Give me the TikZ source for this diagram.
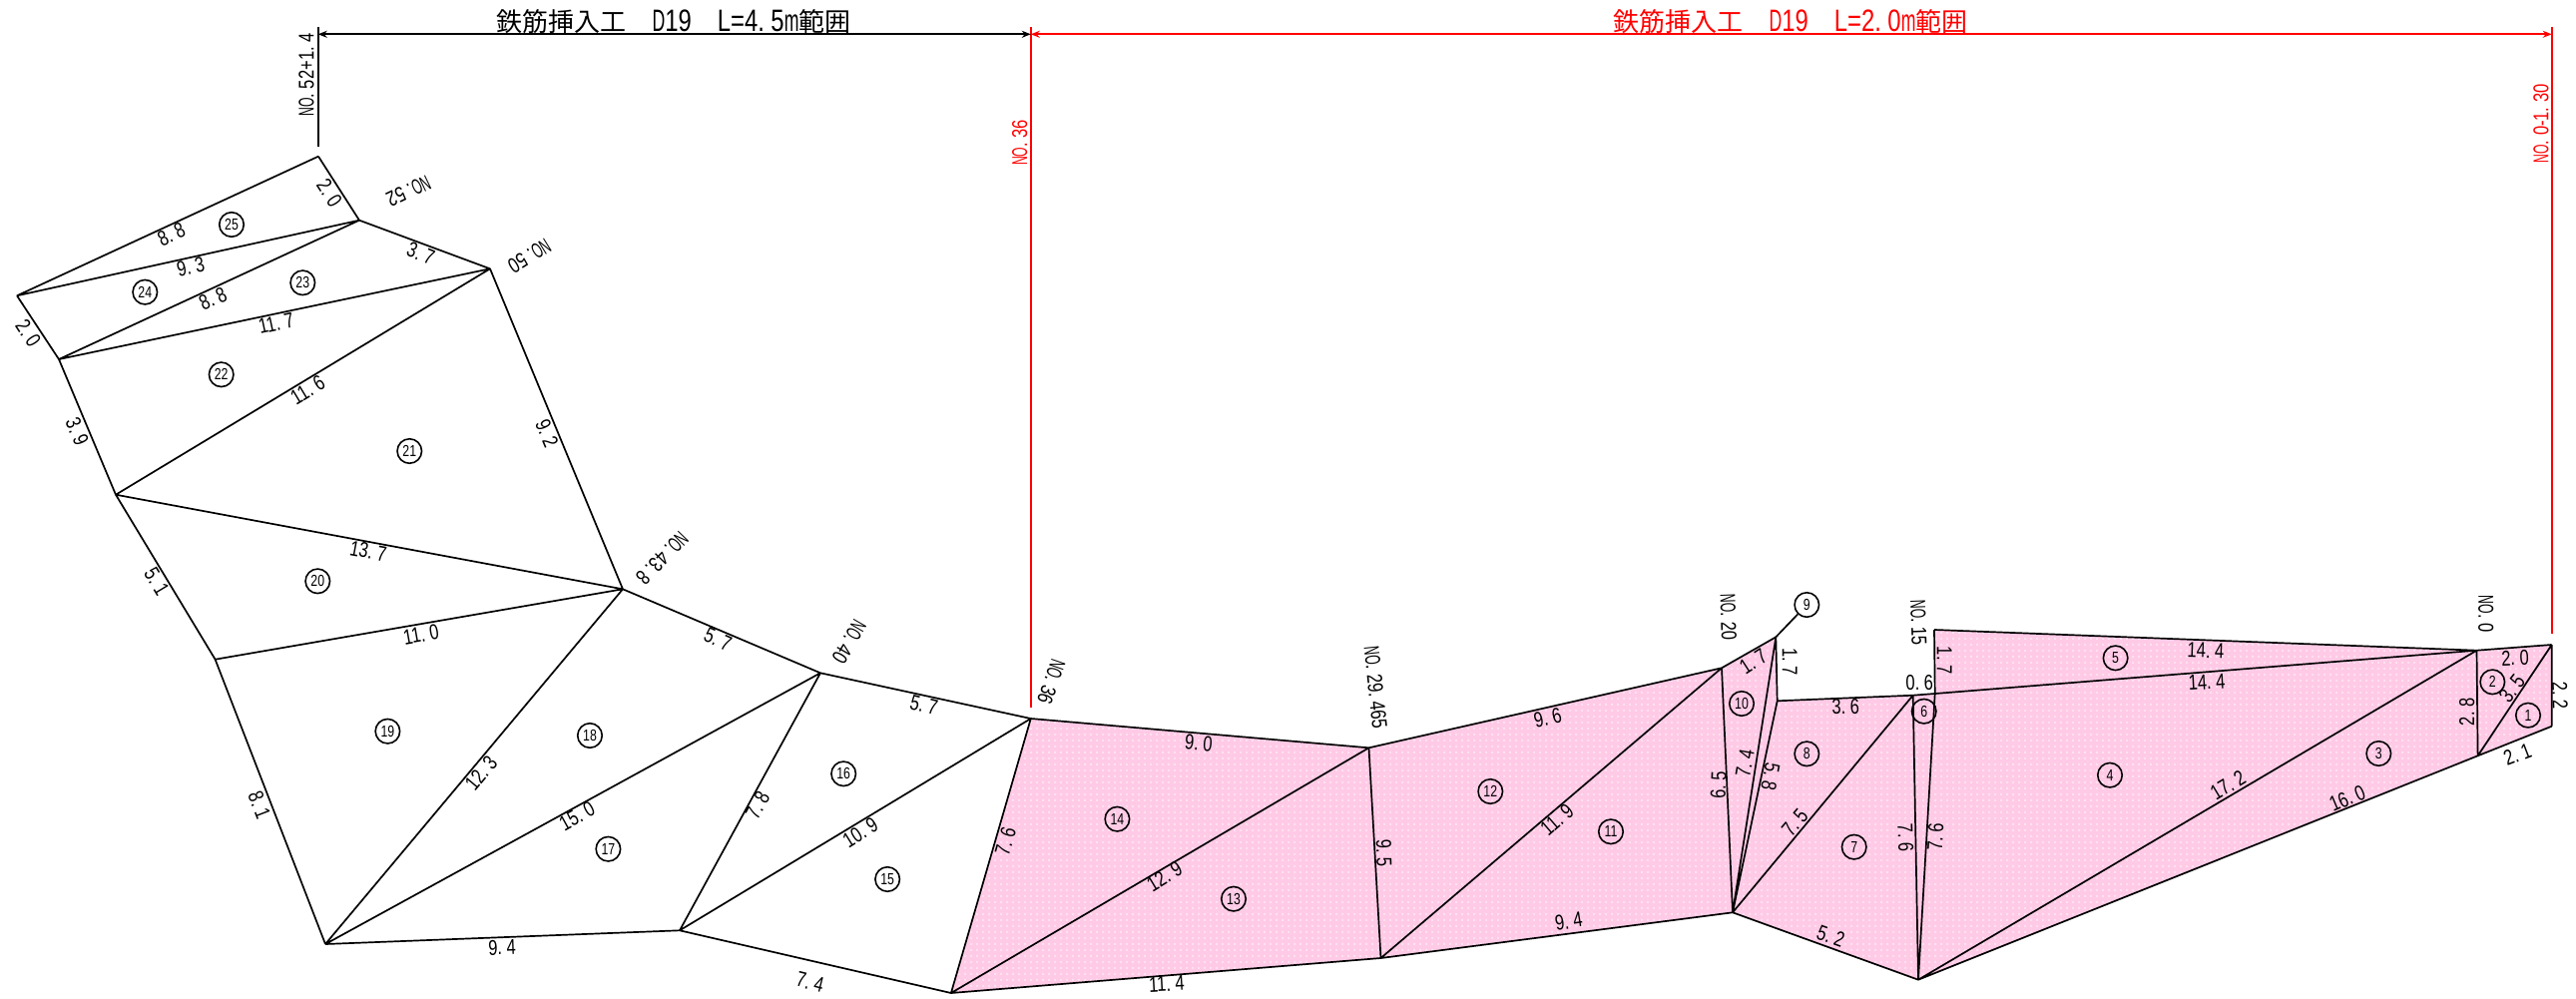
\documentclass[tikz,border=0pt]{standalone}
\usepackage{fontspec}
\usetikzlibrary{arrows.meta,patterns}
\setmainfont[FakeStretch=0.77]{Liberation Sans}
\newfontfamily\nofont[FakeStretch=0.57]{Liberation Sans}
\newfontfamily\cjkf{Noto Sans CJK JP}
% half-width spacing after the full stop, as in the reference's lettering
\XeTeXinterchartokenstate=1
\XeTeXcharclass`\.=7
\XeTeXinterchartoks 7 0 = {\kern0.21em}
\definecolor{pinkbase}{RGB}{255,202,230}
\definecolor{pinkdot}{RGB}{255,224,240}
\pgfdeclarepatternformonly{pinkdots}{\pgfpointorigin}{\pgfpoint{6pt}{6pt}}{\pgfpoint{6pt}{6pt}}{%
  \pgfpathrectangle{\pgfpointorigin}{\pgfpoint{2.5pt}{2.5pt}}\pgfusepath{fill}}
\newcommand{\NOx}{{\nofont NO}}
\newcommand{\titletext}[1]{{\fontsize{26}{26}\cjkf 鉄筋挿入工　}{\fontsize{31}{31}\selectfont{\nofont D}19}{\fontsize{26}{26}\cjkf 　}{\fontsize{31}{31}\selectfont L={#1}{\nofont m}}{\fontsize{26}{26}\cjkf 範囲}}
\tikzset{
  edge/.style={draw=black,line width=1.7pt,line join=round},
  redline/.style={draw=red,line width=2pt},
  blackline/.style={draw=black,line width=1.7pt},
  dimarrow/.style={{Stealth[length=9pt,width=7pt]}-{Stealth[length=9pt,width=7pt]}},
  lab/.style={inner sep=0pt,outer sep=0pt,font=\fontsize{21.5}{21.5}\selectfont},
  redlab/.style={lab,text=red},
  num/.style={circle,draw=black,line width=1.6pt,inner sep=0pt,minimum size=24.5pt,font=\fontsize{16}{16}\selectfont},
  ttl/.style={inner sep=0pt,outer sep=0pt},
}
\begin{document}
\begin{tikzpicture}[x=1pt,y=-1pt]
\useasboundingbox (0,0) rectangle (2581,1001);
% vertices
\coordinate (A) at (319,156.7);
\coordinate (B) at (360,220.7);
\coordinate (C) at (491,269.3);
\coordinate (D) at (17,296.3);
\coordinate (E) at (59,360);
\coordinate (F) at (116,495.7);
\coordinate (G) at (624,590.3);
\coordinate (H) at (215.6,660.7);
\coordinate (I) at (326,946);
\coordinate (J) at (681,932.3);
\coordinate (K) at (822,674.3);
\coordinate (L) at (1032.8,720);
\coordinate (M) at (1371.5,749.3);
\coordinate (N) at (1383.5,960);
\coordinate (O) at (952.9,995);
\coordinate (P) at (1725,669.3);
\coordinate (Q) at (1779.3,638.3);
\coordinate (R) at (1780.7,702.3);
\coordinate (S) at (1736,914.3);
\coordinate (T) at (1916.7,696.7);
\coordinate (U) at (1938.7,695);
\coordinate (V) at (1922,981.7);
\coordinate (W) at (1938,631);
\coordinate (X) at (2481.5,651.7);
\coordinate (Y) at (2556.7,646);
\coordinate (Z) at (2556.7,727.7);
\coordinate (AA) at (2482.6,757.3);
% dimension line ends
\coordinate (d1t) at (318.75,27);
\coordinate (d1b) at (318.75,146.7);
\coordinate (d1m) at (318.75,34.3);
\coordinate (d2t) at (1032.8,27);
\coordinate (d2b) at (1032.8,709);
\coordinate (d2m) at (1032.8,34.3);
\coordinate (d3t) at (2556.7,27);
\coordinate (d3b) at (2556.7,635);
\coordinate (d3m) at (2556.7,34.3);
% pink area
\path[fill=pinkbase] (L)--(M)--(P)--(Q)--(R)--(T)--(U)--(W)--(X)--(Y)--(Z)--(AA)--(V)--(S)--(N)--(O)--cycle;
\path[pattern=pinkdots,pattern color=pinkdot] (L)--(M)--(P)--(Q)--(R)--(T)--(U)--(W)--(X)--(Y)--(Z)--(AA)--(V)--(S)--(N)--(O)--cycle;
% edges
\draw[edge] (A)--(B) (A)--(D) (D)--(B) (B)--(C) (D)--(E) (E)--(B) (E)--(C) (C)--(F) (E)--(F)
  (C)--(G) (F)--(G) (F)--(H) (H)--(G) (H)--(I) (G)--(I) (G)--(K) (K)--(I) (I)--(J) (K)--(J)
  (K)--(L) (J)--(L) (J)--(O) (L)--(O) (L)--(M) (O)--(M) (M)--(N) (O)--(N) (M)--(P) (P)--(N)
  (N)--(S) (P)--(S) (Q)--(S) (R)--(S) (P)--(Q) (Q)--(R) (R)--(T) (S)--(T) (S)--(V) (T)--(V)
  (U)--(V) (T)--(U) (U)--(W) (W)--(X) (U)--(X) (X)--(V) (V)--(AA) (X)--(AA) (X)--(Y) (AA)--(Y)
  (Y)--(Z) (Z)--(AA);
% dimension lines
\draw[blackline] (d1t)--(d1b);
\draw[redline] (d2t)--(d2b);
\draw[redline] (d3t)--(d3b);
\draw[blackline,dimarrow] (d1m)--(d2m);
\draw[redline,dimarrow] (d2m)--(d3m);
% titles
\node[ttl] (t1) at (675,21.5) {\titletext{4.5}};
\node[ttl,text=red] (t2) at (1794,21.5) {\titletext{2.0}};
% station labels
\node[lab,rotate=90] (s1) at (307,75) {\NOx.52+1.4};
\node[redlab,rotate=90] (s2) at (1021.7,143) {\NOx.36};
\node[redlab,rotate=90] (s3) at (2546,124) {\NOx.0-1.30};
\node[lab,rotate=205.5] (s4) at (409.3,191.7) {\NOx.52};
\node[lab,rotate=212] (s5) at (530.4,256.7) {\NOx.50};
\node[lab,rotate=226] (s6) at (663.3,559.3) {\NOx.43.8};
\node[lab,rotate=240] (s7) at (850.7,643.3) {\NOx.40};
\node[lab,rotate=251] (s8) at (1053.3,683.3) {\NOx.36};
\node[lab,rotate=-84] (s9) at (1378.3,689) {\NOx.29.465};
\node[lab,rotate=-88] (s10) at (1731.7,618.3) {\NOx.20};
\node[lab,rotate=-88] (s11) at (1922.3,624) {\NOx.15};
\node[lab,rotate=-90] (s12) at (2490.7,615) {\NOx.0};
% length labels
\node[lab,rotate=-57] (a1) at (330,193.3) {2.0};
\node[lab,rotate=25] (a2) at (171.7,235) {8.8};
\node[lab,rotate=12.5] (a3) at (191,267.7) {9.3};
\node[lab,rotate=25] (a4) at (213.3,299.3) {8.8};
\node[lab,rotate=12] (a5) at (276.7,324) {11.7};
\node[lab,rotate=-22] (a6) at (421.7,254) {3.7};
\node[lab,rotate=-57] (a7) at (28.3,334) {2.0};
\node[lab,rotate=-67] (a8) at (77.3,432.7) {3.9};
\node[lab,rotate=31] (a9) at (308.3,390.7) {11.6};
\node[lab,rotate=-67] (a10) at (548,434) {9.2};
\node[lab,rotate=-10.5] (a11) at (369,552.3) {13.7};
\node[lab,rotate=10] (a12) at (421.9,635.7) {11.0};
\node[lab,rotate=-59] (a13) at (157,582.7) {5.1};
\node[lab,rotate=-69] (a14) at (260,806.7) {8.1};
\node[lab,rotate=50] (a15) at (482,774.3) {12.3};
\node[lab,rotate=29] (a16) at (578,817.7) {15.0};
\node[lab,rotate=2] (a17) at (503,949.3) {9.4};
\node[lab,rotate=-24] (a18) at (719.3,640.7) {5.7};
\node[lab,rotate=-14] (a19) at (925.7,706.7) {5.7};
\node[lab,rotate=61] (a20) at (759,807.3) {7.8};
\node[lab,rotate=32] (a21) at (862,834) {10.9};
\node[lab,rotate=-14] (a22) at (811.7,984) {7.4};
\node[lab,rotate=74] (a23) at (1007.4,843.3) {7.6};
\node[lab,rotate=-5] (a24) at (1201,744.3) {9.0};
\node[lab,rotate=31] (a25) at (1166.7,878.3) {12.9};
\node[lab,rotate=3] (a26) at (1169,986) {11.4};
\node[lab,rotate=-88] (a27) at (1386.7,855) {9.5};
\node[lab,rotate=13] (a28) at (1550.7,719) {9.6};
\node[lab,rotate=41] (a29) at (1560,821.7) {11.9};
\node[lab,rotate=9] (a30) at (1571.7,923.3) {9.4};
\node[lab,rotate=88] (a31) at (1721.7,786.7) {6.5};
\node[lab,rotate=33] (a32) at (1756.7,662.7) {1.7};
\node[lab,rotate=-90] (a33) at (1793.3,663.3) {1.7};
\node[lab,rotate=80] (a34) at (1748.3,765) {7.4};
\node[lab,rotate=-100] (a35) at (1774,778.3) {5.8};
\node[lab,rotate=1] (a36) at (1849.3,708.3) {3.6};
\node[lab,rotate=1] (a37) at (1923.3,684.3) {0.6};
\node[lab,rotate=50] (a38) at (1798.3,824) {7.5};
\node[lab,rotate=-88] (a39) at (1909.3,839.3) {7.6};
\node[lab,rotate=87] (a40) at (1939.3,838.3) {7.6};
\node[lab,rotate=-90] (a41) at (1948.3,661.7) {1.7};
\node[lab,rotate=-20] (a42) at (1834.3,938.3) {5.2};
\node[lab,rotate=-2] (a43) at (2210,651.7) {14.4};
\node[lab,rotate=3] (a44) at (2211,683.3) {14.4};
\node[lab,rotate=31] (a45) at (2232.2,786.7) {17.2};
\node[lab,rotate=23] (a46) at (2351.9,800) {16.0};
\node[lab,rotate=2] (a47) at (2520,659.3) {2.0};
\node[lab,rotate=52] (a48) at (2516.7,690) {3.5};
\node[lab,rotate=90] (a49) at (2471.7,713.3) {2.8};
\node[lab,rotate=-88] (a50) at (2565,696.7) {2.2};
\node[lab,rotate=21] (a51) at (2522.3,756) {2.1};
% numbered circles
\node[num] (n1) at (2533,716.7) {1};
\node[num] (n2) at (2497.3,683.3) {2};
\node[num] (n3) at (2383.3,755) {3};
\node[num] (n4) at (2114,776.7) {4};
\node[num] (n5) at (2119.6,659.3) {5};
\node[num] (n6) at (1927.7,712.7) {6};
\node[num] (n7) at (1857.7,848.7) {7};
\node[num] (n8) at (1810.3,755.3) {8};
\node[num] (n9) at (1810.3,606) {9};
\node[num] (n10) at (1745,705) {10};
\node[num] (n11) at (1614,833.3) {11};
\node[num] (n12) at (1493.3,793) {12};
\node[num] (n13) at (1236,900.7) {13};
\node[num] (n14) at (1119.4,820.7) {14};
\node[num] (n15) at (889.2,881) {15};
\node[num] (n16) at (845.2,775.3) {16};
\node[num] (n17) at (609.4,850.7) {17};
\node[num] (n18) at (591,737) {18};
\node[num] (n19) at (388.4,732.7) {19};
\node[num] (n20) at (318.3,582.3) {20};
\node[num] (n21) at (410.3,452) {21};
\node[num] (n22) at (221.7,375.3) {22};
\node[num] (n23) at (303.3,283.3) {23};
\node[num] (n24) at (145.3,292.7) {24};
\node[num] (n25) at (232,225) {25};
\draw[edge] (n9)--(Q);
\end{tikzpicture}
\end{document}
